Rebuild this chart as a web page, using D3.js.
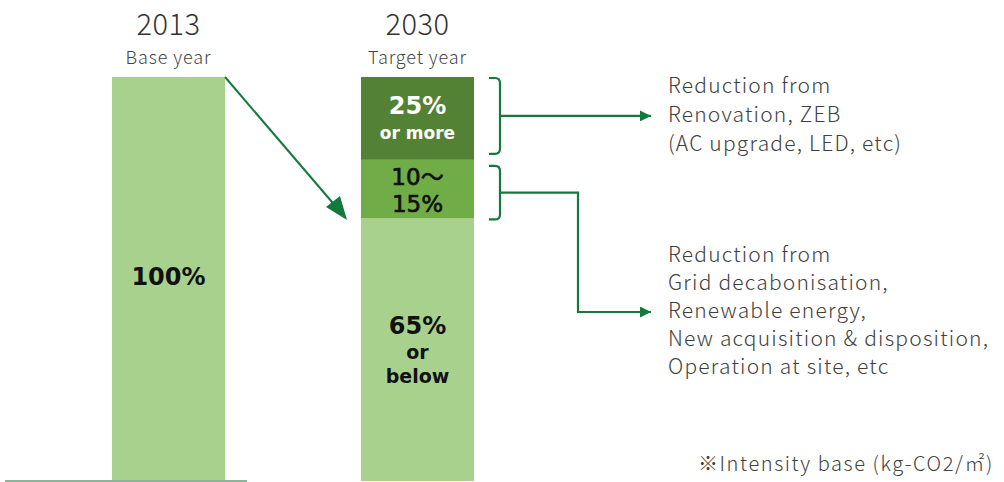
<!DOCTYPE html>
<html><head><meta charset="utf-8">
<script src="https://cdn.jsdelivr.net/npm/d3@7"></script>
<style>
html,body{margin:0;padding:0;background:#fff;}
svg{display:block;font-family:"Noto Sans CJK JP","Noto Sans",sans-serif;}
</style></head>
<body><svg id="c" width="1004" height="482"></svg>
<script>
const categories = ["2013", "2030"];
const subtitles = ["Base year", "Target year"];
const baseValues = [100];
const targetSegments = ["remaining", "other", "renovation"];
const targetValues = [65, 14.5, 20.5];
const segmentLabels = [["65%", "or", "below"], ["10〜", "15%"], ["25%", "or more"]];
const baseLabel = ["100%"];
const note1 = ["Reduction from", "Renovation, ZEB", "(AC upgrade, LED, etc)"];
const note2 = ["Reduction from", "Grid decabonisation,", "Renewable energy,", "New acquisition & disposition,", "Operation at site,  etc"];
const footnote = "※Intensity base (kg-CO2/㎡)";

const svg = d3.select("#c");
const green = "#137a3c";
const barFont = "'DejaVu Sans','Noto Sans CJK JP',sans-serif";
const x = d3.scaleBand().domain(categories).range([44, 542]).paddingInner(0.546).paddingOuter(0.273);
const y = d3.scaleLinear().domain([0, 100]).range([481, 77]);
const colors = {remaining: "#a9d18e", other: "#70ad47", renovation: "#548235"};

const defs = svg.append("defs");
defs.append("marker").attr("id", "ah").attr("viewBox", "0 0 10 10").attr("refX", 10).attr("refY", 5)
  .attr("markerWidth", 5).attr("markerHeight", 5).attr("orient", "auto")
  .append("path").attr("d", "M0,0 L10,5 L0,10 Z").attr("fill", green);

// base bar
svg.append("rect").attr("x", x("2013")).attr("width", x.bandwidth())
  .attr("y", y(baseValues[0])).attr("height", y(0) - y(baseValues[0])).attr("fill", colors.remaining);

// stacked target
let acc = 0;
const segs = targetValues.map((v, i) => { const s = {key: targetSegments[i], v0: acc, v1: acc + v}; acc += v; return s; });
svg.selectAll("rect.seg").data(segs).enter().append("rect").attr("class", "seg")
  .attr("x", x("2030")).attr("width", x.bandwidth())
  .attr("y", d => y(d.v1)).attr("height", d => y(d.v0) - y(d.v1)).attr("fill", d => colors[d.key]);

// baseline axis
svg.append("line").attr("x1", 5).attr("x2", 247).attr("y1", 481).attr("y2", 481).attr("stroke", "#8fb39a").attr("stroke-width", 2);

// headers
categories.forEach((c, i) => {
  const cx = x(c) + x.bandwidth() / 2;
  svg.append("text").attr("x", cx).attr("y", 35).attr("text-anchor", "middle").attr("font-size", 29).attr("font-weight", 300).attr("letter-spacing", 0.5).attr("fill", "#333").text(c);
  svg.append("text").attr("x", cx).attr("y", 64).attr("text-anchor", "middle").attr("font-size", 18).attr("font-weight", 300).attr("letter-spacing", 0.9).attr("fill", "#444").text(subtitles[i]);
});

const cx1 = x("2013") + x.bandwidth() / 2, cx2 = x("2030") + x.bandwidth() / 2;
svg.append("text").attr("x", cx1).attr("y", 285).attr("text-anchor", "middle").attr("font-family", barFont).attr("font-size", 24).attr("font-weight", "bold").attr("fill", "#111").text(baseLabel[0]);

// segment labels
const lab = svg.append("g").attr("text-anchor", "middle").attr("font-family", barFont);
lab.append("text").attr("x", cx2).attr("y", 114).attr("font-size", 24).attr("font-weight", "bold").attr("fill", "#fff").text(segmentLabels[2][0]);
lab.append("text").attr("x", cx2).attr("y", 139).attr("font-size", 17).attr("font-weight", "bold").attr("fill", "#fff").text(segmentLabels[2][1]);
lab.append("text").attr("x", cx2).attr("y", 185).attr("font-size", 23).attr("fill", "#111").attr("stroke", "#111").attr("stroke-width", 0.7).text(segmentLabels[1][0]);
lab.append("text").attr("x", cx2).attr("y", 212).attr("font-size", 23).attr("fill", "#111").attr("stroke", "#111").attr("stroke-width", 0.7).text(segmentLabels[1][1]);
lab.append("text").attr("x", cx2).attr("y", 334).attr("font-size", 24).attr("font-weight", "bold").attr("fill", "#111").text(segmentLabels[0][0]);
lab.append("text").attr("x", cx2).attr("y", 359).attr("font-size", 19).attr("font-weight", "bold").attr("fill", "#111").text(segmentLabels[0][1]);
lab.append("text").attr("x", cx2).attr("y", 383).attr("font-size", 19).attr("font-weight", "bold").attr("fill", "#111").text(segmentLabels[0][2]);

// diagonal arrow
svg.append("line").attr("x1", x("2013") + x.bandwidth()).attr("y1", y(100))
  .attr("x2", 338).attr("y2", 209).attr("stroke", green).attr("stroke-width", 2);
svg.append("path").attr("d", "M347,220 L326,207 L340,196 Z").attr("fill", green);

// brackets
function bracket(top, bot) {
  const xa = 489, xb = 500, r = 5;
  return `M${xa},${top} L${xb - r},${top} Q${xb},${top} ${xb},${top + r} L${xb},${bot - r} Q${xb},${bot} ${xb - r},${bot} L${xa},${bot}`;
}
const top1 = y(100) + 1, bot1 = y(segs[1].v1) - 6;
const top2 = y(segs[1].v1) + 6, bot2 = y(segs[0].v1) + 1;
svg.append("path").attr("d", bracket(top1, bot1)).attr("fill", "none").attr("stroke", green).attr("stroke-width", 2.2);
svg.append("path").attr("d", bracket(top2, bot2)).attr("fill", "none").attr("stroke", green).attr("stroke-width", 2.2);
const m1 = (top1 + bot1) / 2, m2 = (top2 + bot2) / 2;
svg.append("path").attr("d", `M500,${m1} L651,${m1}`).attr("fill", "none").attr("stroke", green).attr("stroke-width", 2.2).attr("marker-end", "url(#ah)");
svg.append("path").attr("d", `M500,${m2} L578,${m2} L578,312 L651,312`).attr("fill", "none").attr("stroke", green).attr("stroke-width", 2.2).attr("marker-end", "url(#ah)");

// notes
const n1 = svg.append("text").attr("font-size", 21).attr("font-weight", 300).attr("letter-spacing", 1.2).attr("fill", "#404040");
note1.forEach((t, i) => n1.append("tspan").attr("x", 668).attr("y", 93 + i * 29).text(t));
const n2 = svg.append("text").attr("font-size", 21).attr("font-weight", 300).attr("letter-spacing", 1.2).attr("fill", "#404040");
note2.forEach((t, i) => n2.append("tspan").attr("x", 668).attr("y", 262 + i * 28).text(t));

svg.append("text").attr("x", 994).attr("y", 471).attr("text-anchor", "end").attr("font-size", 20)
  .attr("font-weight", 300).attr("letter-spacing", 1.6)
  .attr("fill", "#404040").text(footnote);
</script></body></html>
